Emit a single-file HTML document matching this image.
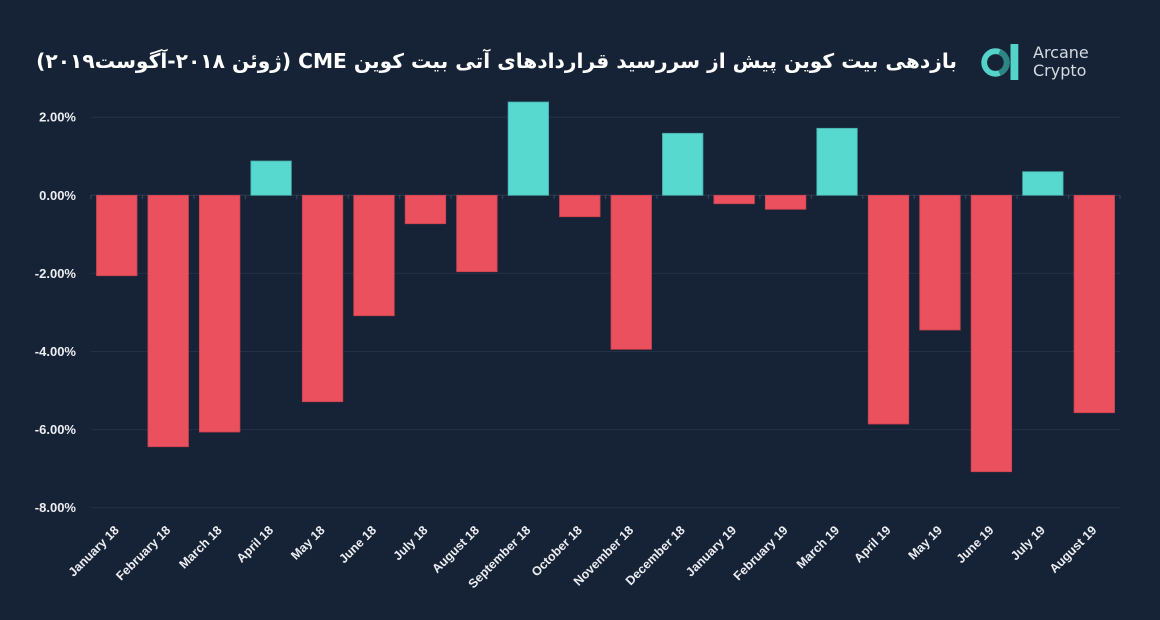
<!DOCTYPE html>
<html>
<head>
<meta charset="utf-8">
<style>
  html,body{margin:0;padding:0;background:#162236;}
  body{width:1160px;height:620px;overflow:hidden;position:relative;}
  svg{position:absolute;left:0;top:0;}
  .yl{font-family:"Liberation Sans",sans-serif;font-weight:bold;font-size:13px;fill:#eceef2;}
  .xl{font-family:"Liberation Sans",sans-serif;font-weight:bold;font-size:12.5px;fill:#eceef2;}
</style>
</head>
<body>
<svg width="1160" height="620" viewBox="0 0 1160 620" xmlns="http://www.w3.org/2000/svg">
  <rect x="0" y="0" width="1160" height="620" fill="#162236"/>

  <!-- Title -->
  <text x="957" y="68" direction="rtl" text-anchor="start" font-family="'DejaVu Sans', sans-serif" font-weight="bold" font-size="20.2" fill="#ffffff">بازدهی بیت کوین پیش از سررسید قراردادهای آتی بیت کوین CME (ژوئن ۲۰۱۸-آگوست۲۰۱۹)</text>

  <!-- Logo -->
  <circle cx="995.5" cy="62.5" r="11.3" fill="none" stroke="#54d3c9" stroke-width="5.8"/>
  <path d="M 999.4 51.9 A 11.3 11.3 0 0 1 999.4 73.1" fill="none" stroke="#2d8683" stroke-width="5.8"/>
  <rect x="1010.5" y="44" width="7.8" height="36" fill="#54d3c9"/>
  <text x="1033" y="58" font-family="'DejaVu Sans', sans-serif" font-size="16" fill="#d5dae0">Arcane</text>
  <text x="1033" y="76" font-family="'DejaVu Sans', sans-serif" font-size="16" fill="#d5dae0">Crypto</text>

  <!-- Gridlines -->
  <g stroke="#233148" stroke-width="1">
    <line x1="91" y1="117.2" x2="1120" y2="117.2"/>
    <line x1="91" y1="273.4" x2="1120" y2="273.4"/>
    <line x1="91" y1="351.5" x2="1120" y2="351.5"/>
    <line x1="91" y1="429.6" x2="1120" y2="429.6"/>
    <line x1="91" y1="507.7" x2="1120" y2="507.7"/>
  </g>
  <line x1="91" y1="195.3" x2="1120" y2="195.3" stroke="#2c3a50" stroke-width="1"/>

  <!-- Ticks -->
  <g stroke="#3a485d" stroke-width="1">
    <line x1="91" y1="195" x2="91" y2="199"/>
    <line x1="142.45" y1="195" x2="142.45" y2="199"/>
    <line x1="193.9" y1="195" x2="193.9" y2="199"/>
    <line x1="245.35" y1="195" x2="245.35" y2="199"/>
    <line x1="296.8" y1="195" x2="296.8" y2="199"/>
    <line x1="348.25" y1="195" x2="348.25" y2="199"/>
    <line x1="399.7" y1="195" x2="399.7" y2="199"/>
    <line x1="451.15" y1="195" x2="451.15" y2="199"/>
    <line x1="502.6" y1="195" x2="502.6" y2="199"/>
    <line x1="554.05" y1="195" x2="554.05" y2="199"/>
    <line x1="605.5" y1="195" x2="605.5" y2="199"/>
    <line x1="656.95" y1="195" x2="656.95" y2="199"/>
    <line x1="708.4" y1="195" x2="708.4" y2="199"/>
    <line x1="759.85" y1="195" x2="759.85" y2="199"/>
    <line x1="811.3" y1="195" x2="811.3" y2="199"/>
    <line x1="862.75" y1="195" x2="862.75" y2="199"/>
    <line x1="914.2" y1="195" x2="914.2" y2="199"/>
    <line x1="965.65" y1="195" x2="965.65" y2="199"/>
    <line x1="1017.1" y1="195" x2="1017.1" y2="199"/>
    <line x1="1068.55" y1="195" x2="1068.55" y2="199"/>
    <line x1="1120" y1="195" x2="1120" y2="199"/>
  </g>

  <!-- Y labels -->
  <g class="yl" text-anchor="end">
    <text x="76" y="121.7">2.00%</text>
    <text x="76" y="199.8">0.00%</text>
    <text x="76" y="277.9">-2.00%</text>
    <text x="76" y="356">-4.00%</text>
    <text x="76" y="434.1">-6.00%</text>
    <text x="76" y="512.2">-8.00%</text>
  </g>

  <!-- Bars -->
  <g fill="#ea505d" stroke="#c9434f" stroke-width="0.8">
    <rect x="96.5" y="195.3" width="40.5" height="80.4"/>
    <rect x="147.95" y="195.3" width="40.5" height="251.4"/>
    <rect x="199.4" y="195.3" width="40.5" height="236.7"/>
    <rect x="302.3" y="195.3" width="40.5" height="206.4"/>
    <rect x="353.75" y="195.3" width="40.5" height="120.4"/>
    <rect x="405.2" y="195.3" width="40.5" height="28.4"/>
    <rect x="456.65" y="195.3" width="40.5" height="76.4"/>
    <rect x="559.55" y="195.3" width="40.5" height="21.4"/>
    <rect x="611" y="195.3" width="40.5" height="154"/>
    <rect x="713.9" y="195.3" width="40.5" height="8.4"/>
    <rect x="765.35" y="195.3" width="40.5" height="14"/>
    <rect x="868.25" y="195.3" width="40.5" height="228.7"/>
    <rect x="919.7" y="195.3" width="40.5" height="134.7"/>
    <rect x="971.15" y="195.3" width="40.5" height="276.4"/>
    <rect x="1074.05" y="195.3" width="40.5" height="217.4"/>
  </g>
  <g fill="#57d9cf" stroke="#45aaa5" stroke-width="0.8">
    <rect x="250.85" y="161" width="40.5" height="34.3"/>
    <rect x="508.1" y="102" width="40.5" height="93.3"/>
    <rect x="662.45" y="133.3" width="40.5" height="62"/>
    <rect x="816.8" y="128.3" width="40.5" height="67"/>
    <rect x="1022.6" y="171.7" width="40.5" height="23.6"/>
  </g>

  <!-- X labels -->
  <g class="xl" text-anchor="end">
    <text transform="translate(119.7,531) rotate(-45)">January 18</text>
    <text transform="translate(171.2,531) rotate(-45)">February 18</text>
    <text transform="translate(222.6,531) rotate(-45)">March 18</text>
    <text transform="translate(274.1,531) rotate(-45)">April 18</text>
    <text transform="translate(325.5,531) rotate(-45)">May 18</text>
    <text transform="translate(377,531) rotate(-45)">June 18</text>
    <text transform="translate(428.4,531) rotate(-45)">July 18</text>
    <text transform="translate(479.9,531) rotate(-45)">August 18</text>
    <text transform="translate(531.3,531) rotate(-45)">September 18</text>
    <text transform="translate(582.8,531) rotate(-45)">October 18</text>
    <text transform="translate(634.2,531) rotate(-45)">November 18</text>
    <text transform="translate(685.7,531) rotate(-45)">December 18</text>
    <text transform="translate(737.1,531) rotate(-45)">January 19</text>
    <text transform="translate(788.6,531) rotate(-45)">February 19</text>
    <text transform="translate(840,531) rotate(-45)">March 19</text>
    <text transform="translate(891.5,531) rotate(-45)">April 19</text>
    <text transform="translate(942.9,531) rotate(-45)">May 19</text>
    <text transform="translate(994.4,531) rotate(-45)">June 19</text>
    <text transform="translate(1045.8,531) rotate(-45)">July 19</text>
    <text transform="translate(1097.3,531) rotate(-45)">August 19</text>
  </g>
</svg>
</body>
</html>
